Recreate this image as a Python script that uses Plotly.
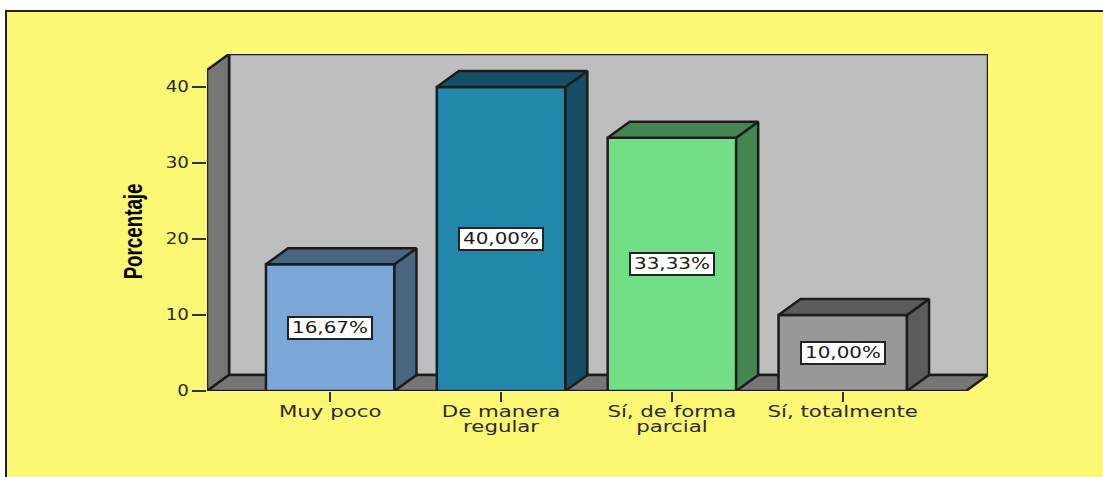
import plotly.graph_objects as go

categories = ["Muy poco", "De manera<br>regular", "Sí, de forma<br>parcial", "Sí, totalmente"]
values = [16.67, 40.00, 33.33, 10.00]
labels = ["16,67%", "40,00%", "33,33%", "10,00%"]
front_colors = ["#7BA7D6", "#2387AB", "#72DF87", "#989898"]
side_colors = ["#4A6580", "#154F66", "#458650", "#5C5C5C"]
y_ticks = [0, 10, 20, 30, 40]

W, H = 1103, 477
L, R, T, B = 207, 988, 54, 391
X0, X1 = -0.721, 3.85
DX, DY = 0.129, 2.105
BAR = 0.752
YMAX = 44.34
EDGE = "#1c1c1c"
EW = 2.5
YTOP = YMAX - DY
FRONT_END = X1 - DX


def path(pts):
    return "M " + " L ".join(f"{x},{y}" for x, y in pts) + " Z"


fig = go.Figure()

fig.add_bar(x=list(range(4)), y=values, width=BAR,
            marker=dict(color=front_colors, line=dict(color=EDGE, width=EW)),
            hoverinfo="skip", showlegend=False)

for i, v in enumerate(values):
    a, b = i - BAR / 2, i + BAR / 2
    side = [(b, 0), (b + DX, DY), (b + DX, v + DY), (b, v), (b, 0)]
    top = [(a, v), (b, v), (b + DX, v + DY), (a + DX, v + DY), (a, v)]
    for poly in (side, top):
        fig.add_scatter(x=[p[0] for p in poly], y=[p[1] for p in poly], mode="lines",
                        fill="toself", fillcolor=side_colors[i],
                        line=dict(color=EDGE, width=EW), hoverinfo="skip", showlegend=False)

shapes = [
    dict(type="rect", xref="paper", yref="paper", layer="below",
         x0=(6 - L) / (R - L), x1=(W + 20 - L) / (R - L),
         y0=(B - H - 20) / (B - T), y1=(B - 11) / (B - T),
         fillcolor="#FDF873", line=dict(color="#222222", width=2)),
    dict(type="path", layer="below", fillcolor="#BEBEBE", line=dict(color=EDGE, width=EW),
         path=path([(X0 + DX, DY), (X1, DY), (X1, YMAX), (X0 + DX, YMAX)])),
    dict(type="path", layer="below", fillcolor="#767676", line=dict(color=EDGE, width=EW),
         path=path([(X0, 0), (X0 + DX, DY), (X0 + DX, YMAX), (X0, YTOP)])),
    dict(type="path", layer="below", fillcolor="#767676", line=dict(color=EDGE, width=EW),
         path=path([(X0, 0), (FRONT_END, 0), (X1, DY), (X0 + DX, DY)])),
]

annotations = [
    dict(x=i, y=v / 2, text=t, showarrow=False, xanchor="center", yanchor="middle",
         width=80, height=18, bgcolor="white", bordercolor="#222222", borderwidth=2,
         font=dict(family="DejaVu Sans", size=15, color="#1a1a1a"))
    for i, (v, t) in enumerate(zip(values, labels))
]
annotations.append(dict(xref="paper", x=(133 - L) / (R - L), y=21, text="<b>Porcentaje</b>",
                        textangle=-90, showarrow=False, xanchor="center", yanchor="middle",
                        font=dict(family="Liberation Sans", size=25, color="black")))

fig.update_layout(
    width=W, height=H, margin=dict(l=L, r=W - R, t=T, b=H - B),
    paper_bgcolor="white", plot_bgcolor="rgba(0,0,0,0)",
    shapes=shapes, annotations=annotations, showlegend=False,
    font=dict(family="DejaVu Sans", size=15, color="#2a2a2a"),
    xaxis=dict(range=[X0, X1], tickvals=list(range(4)), ticktext=categories,
               showgrid=False, zeroline=False, showline=False,
               ticks="outside", ticklen=10, tickwidth=2, tickcolor="#333333", tickangle=0,
               ticklabelstandoff=-3, fixedrange=True),
    yaxis=dict(range=[0, YMAX], tickvals=y_ticks, showgrid=False, zeroline=False,
               showline=False, ticks="outside", ticklen=14, tickwidth=2, tickcolor="#333333",
               tickfont=dict(size=15), fixedrange=True),
)

# The reference text is stretched sideways: widen the drawn glyphs around their anchor.
post = """
document.body.style.margin = '0';
function widen(t, k) {
  var c = parseFloat(t.getAttribute('x')) || 0;
  var old = t.getAttribute('transform') || '';
  t.setAttribute('transform', old + ' translate(' + c + ',0) scale(' + k + ',1) translate(' + (-c) + ',0)');
}
document.querySelectorAll('.xtick text').forEach(function (t) {
  widen(t, 1.42);
  var lines = t.querySelectorAll('tspan.line');
  if (lines.length > 1) { lines[1].setAttribute('dy', '15.5'); }
});
document.querySelectorAll('.ytick text').forEach(function (t) { widen(t, 1.22); });
document.querySelectorAll('.annotation').forEach(function (a, i) {
  widen(a.querySelector('text'), i < 4 ? 1.33 : 0.75);
});
"""

fig.write_html("out.html", post_script=post, config=dict(displayModeBar=False))
